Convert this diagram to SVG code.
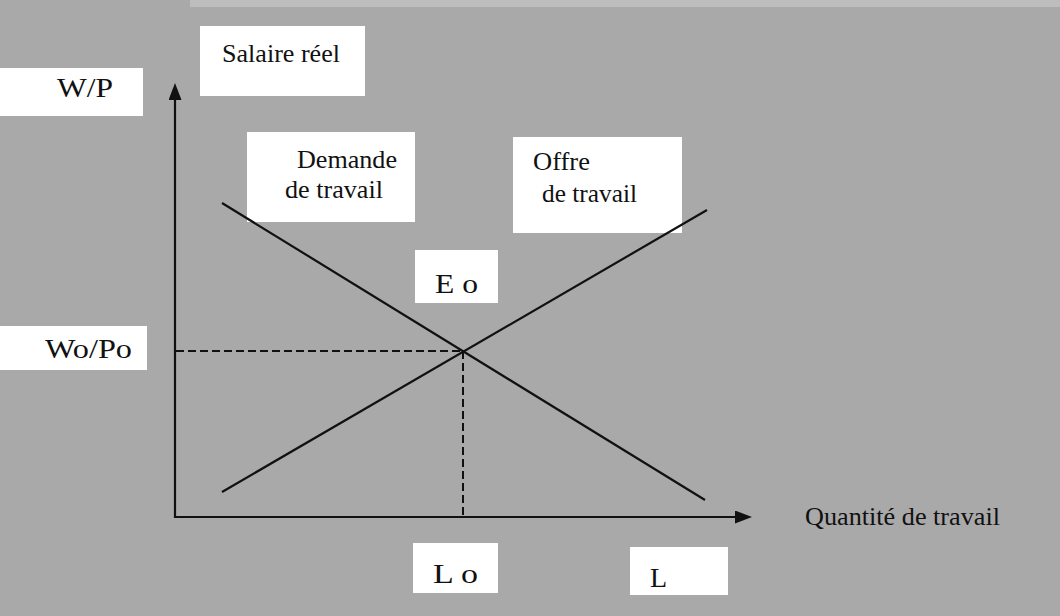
<svg xmlns="http://www.w3.org/2000/svg" width="1060" height="616" viewBox="0 0 1060 616">
  <style>
    .box { fill: #ffffff; }
    .lbl { font-family: "Liberation Serif", "DejaVu Serif", serif; fill: #111111; }
    .s26 { font-size: 26px; }
    .s28 { font-size: 28px; }
    .axis { stroke: #111111; stroke-width: 2.2; fill: none; }
    .curve { stroke: #111111; stroke-width: 2.2; fill: none; }
    .guide { stroke: #111111; stroke-width: 2; stroke-dasharray: 8 4; fill: none; }
  </style>
  <defs>
    <marker id="arrow" markerUnits="userSpaceOnUse" markerWidth="18" markerHeight="14" refX="0" refY="6.5" orient="auto">
      <path d="M0,0 L17,6.5 L0,13 z" fill="#111111"/>
    </marker>
  </defs>

  <!-- paper background -->
  <rect x="0" y="0" width="1060" height="616" fill="#a9a9a9"/>
  <rect x="190" y="0" width="870" height="7" fill="#bdbdbd"/>

  <!-- axis labels -->
  <g id="label-salaire">
    <rect class="box" x="200" y="26" width="165" height="70"/>
    <text class="lbl s26" x="222" y="62" textLength="118" lengthAdjust="spacingAndGlyphs">Salaire réel</text>
  </g>
  <g id="label-wp">
    <rect class="box" x="0" y="68" width="143" height="48"/>
    <text class="lbl s28" x="57" y="97" textLength="56" lengthAdjust="spacingAndGlyphs">W/P</text>
  </g>
  <g id="label-wopo">
    <rect class="box" x="0" y="326" width="147" height="44"/>
    <text class="lbl s28" x="45" y="358" textLength="87" lengthAdjust="spacingAndGlyphs">Wo/Po</text>
  </g>
  <g id="label-quantite">
    <text class="lbl s26" x="805" y="525" textLength="195" lengthAdjust="spacingAndGlyphs">Quantité de travail</text>
  </g>
  <g id="label-lo">
    <rect class="box" x="413" y="543" width="85" height="50"/>
    <text class="lbl s28" x="433" y="583" textLength="45" lengthAdjust="spacingAndGlyphs">L o</text>
  </g>
  <g id="label-l">
    <rect class="box" x="630" y="547" width="98" height="48"/>
    <text class="lbl s28" x="650" y="587">L</text>
  </g>

  <!-- curve labels -->
  <g id="label-demande">
    <rect class="box" x="247" y="132" width="168" height="90"/>
    <text class="lbl s26" x="297" y="168" textLength="100" lengthAdjust="spacingAndGlyphs">Demande</text>
    <text class="lbl s26" x="285" y="198" textLength="98" lengthAdjust="spacingAndGlyphs">de travail</text>
  </g>
  <g id="label-offre">
    <rect class="box" x="513" y="137" width="169" height="96"/>
    <text class="lbl s26" x="533" y="170" textLength="57" lengthAdjust="spacingAndGlyphs">Offre</text>
    <text class="lbl s26" x="542" y="202" textLength="95" lengthAdjust="spacingAndGlyphs">de travail</text>
  </g>
  <g id="label-eo">
    <rect class="box" x="415" y="250" width="83" height="53"/>
    <text class="lbl s28" x="435" y="293" textLength="43" lengthAdjust="spacingAndGlyphs">E o</text>
  </g>

  <!-- axes, curves and equilibrium guides -->
  <g id="connectors">
    <line class="axis" x1="175" y1="518" x2="175" y2="100" marker-end="url(#arrow)"/>
    <line class="axis" x1="174" y1="517" x2="735" y2="517" marker-end="url(#arrow)"/>
    <line class="curve" x1="222" y1="203" x2="705" y2="500"/>
    <line class="curve" x1="222" y1="492" x2="707" y2="210"/>
    <line class="guide" x1="176" y1="351" x2="463" y2="351"/>
    <line class="guide" x1="463" y1="351" x2="463" y2="516"/>
  </g>
</svg>
